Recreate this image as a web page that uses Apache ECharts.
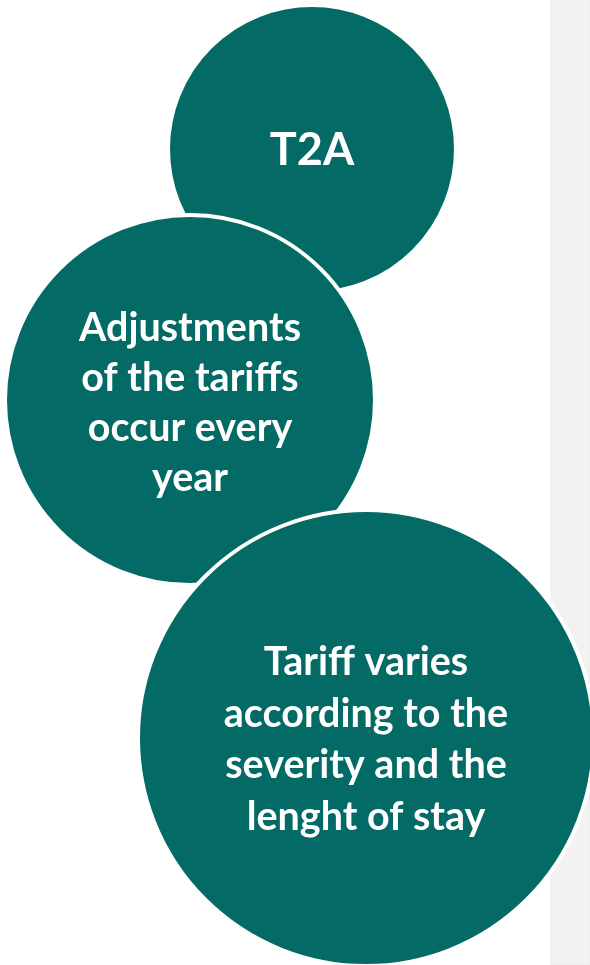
<!DOCTYPE html>
<html>
<head>
<meta charset="utf-8">
<script src="https://cdn.jsdelivr.net/npm/echarts@6/dist/echarts.min.js"></script>
<style>
html,body{margin:0;padding:0;background:#ffffff;}
#chart{width:590px;height:965px;}
</style>
</head>
<body>
<div id="chart"></div>
<script>
// Diagram data
var labels = [
  'T2A',
  'Adjustments\nof the tariffs\noccur every\nyear',
  'Tariff varies\naccording to the\nseverity and the\nlenght of stay'
];
var centerX = [312, 190, 366];
var centerY = [149, 400, 738];
var radius = [142, 183, 226];

var chart = echarts.init(document.getElementById('chart'), null, {renderer: 'canvas'});

var fontSizes = [45, 39.5, 39.5];
var lineHeights = [56, 50, 51.5];
var offsets = [[0, 1], [0, 3], [0, 2]];

var data = labels.map(function (name, i) {
  return {
    name: name,
    value: [centerX[i], centerY[i]],
    symbolSize: radius[i] * 2 + 4,
    label: {
      fontSize: fontSizes[i],
      lineHeight: lineHeights[i],
      offset: offsets[i]
    }
  };
});

chart.setOption({
  animation: false,
  backgroundColor: '#ffffff',
  graphic: [{
    type: 'rect',
    z: 0,
    shape: {x: 551, y: 0, width: 39, height: 965},
    style: {fill: '#f2f2f2', stroke: '#ececec', lineWidth: 1}
  }],
  grid: {left: 0, right: 0, top: 0, bottom: 0},
  xAxis: {type: 'value', min: 0, max: 590, show: false},
  yAxis: {type: 'value', min: 0, max: 965, inverse: true, show: false},
  series: [{
    type: 'scatter',
    z: 10,
    symbol: 'circle',
    data: data,
    itemStyle: {
      color: '#036a66',
      borderColor: '#ffffff',
      borderWidth: 4,
      opacity: 1
    },
    label: {
      show: true,
      position: 'inside',
      formatter: function (p) { return p.name; },
      color: '#ffffff',
      fontFamily: 'Lato',
      fontWeight: 'bold',
      align: 'center',
      verticalAlign: 'middle'
    },
    emphasis: {disabled: true}
  }]
});
</script>
</body>
</html>
